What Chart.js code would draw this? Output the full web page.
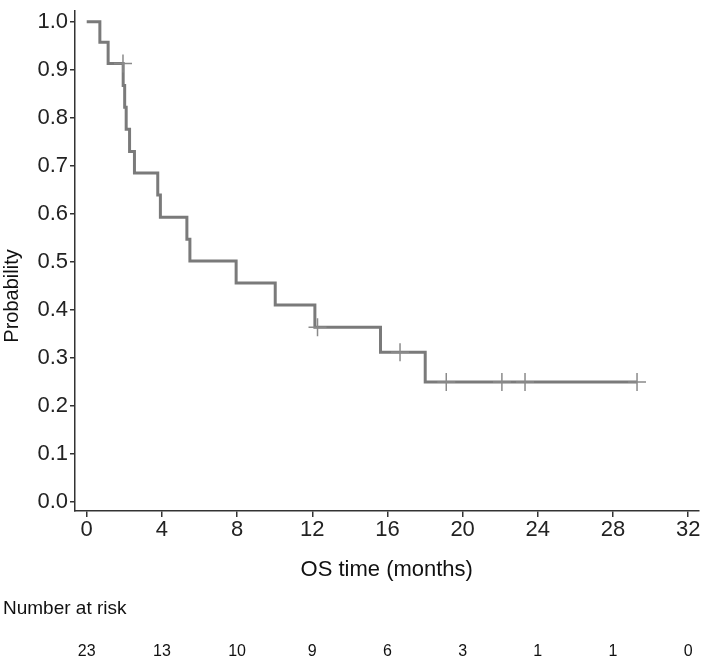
<!DOCTYPE html>
<html>
<head>
<meta charset="utf-8">
<script src="https://cdn.jsdelivr.net/npm/chart.js@4.4.1/dist/chart.umd.min.js"></script>
<style>
  html, body { margin: 0; padding: 0; background: #fff; }
  #wrap { width: 709px; height: 664px; }
</style>
</head>
<body>
<div id="wrap"><canvas id="km"></canvas></div>
<script>
/* Kaplan-Meier steps (months, survival) */
const stepTimes = [0, 0.70, 1.14, 1.94, 2.02, 2.10, 2.28, 2.54, 3.78, 3.92, 5.33, 5.49, 7.95, 10.03, 12.14, 15.63, 18.01, 29.28];
const stepSurv  = [1.0, 0.957, 0.913, 0.867, 0.822, 0.776, 0.730, 0.685, 0.639, 0.593, 0.547, 0.502, 0.456, 0.410, 0.364, 0.312, 0.250, 0.250];

/* censored observations (+ marks) */
const censorTimes = [1.93, 12.28, 16.67, 19.13, 22.09, 23.32, 29.28];
const censorSurv  = [0.913, 0.364, 0.312, 0.250, 0.250, 0.250, 0.250];

/* axes + risk table */
const xTicks     = [0, 4, 8, 12, 16, 20, 24, 28, 32];
const yTicks     = [0, 0.1, 0.2, 0.3, 0.4, 0.5, 0.6, 0.7, 0.8, 0.9, 1.0];
const riskCounts = [23, 13, 10, 9, 6, 3, 1, 1, 0];

const FONT = '"Liberation Sans", Arial, sans-serif';
const AXIS_COLOR = '#333';
const CURVE_COLOR = '#7a7a7a';

// titre Y + tableau "Number at risk" dessinés à la main
const extrasPlugin = {
  id: 'extras',
  afterDraw(chart) {
    const ctx = chart.ctx;
    const xs = chart.scales.x;
    ctx.save();
    ctx.fillStyle = '#111';

    // Probability
    ctx.save();
    ctx.translate(12, 296);
    ctx.rotate(-Math.PI / 2);
    ctx.font = '20px ' + FONT;
    ctx.textAlign = 'center';
    ctx.textBaseline = 'middle';
    ctx.fillText('Probability', 0, 0);
    ctx.restore();

    // Number at risk
    ctx.font = '19px ' + FONT;
    ctx.textAlign = 'left';
    ctx.textBaseline = 'middle';
    ctx.fillText('Number at risk', 3, 609);

    ctx.font = '16px ' + FONT;
    ctx.textAlign = 'center';
    riskCounts.forEach((n, i) => {
      ctx.fillText(String(n), xs.getPixelForValue(xTicks[i]), 652);
    });
    ctx.restore();
  }
};

// pas de marge auto pour les labels qui débordent
const noOverflow = s => { s.paddingTop = 0; s.paddingBottom = 0; s.paddingLeft = 0; s.paddingRight = 0; };

new Chart(document.getElementById('km'), {
  type: 'line',
  data: {
    datasets: [
      {
        label: 'OS',
        data: stepTimes.map((t, i) => ({ x: t, y: stepSurv[i] })),
        stepped: 'before',   // horizontal puis chute au temps de l'événement
        borderColor: CURVE_COLOR,
        borderWidth: 3,
        pointRadius: 0,
        fill: false,
        order: 2,
      },
      {
        label: 'censored',
        type: 'scatter',
        data: censorTimes.map((t, i) => ({ x: t, y: censorSurv[i] })),
        pointStyle: 'cross',
        pointRadius: 9,
        borderColor: '#8a8a8a',
        borderWidth: 1.5,
        order: 1,
      },
    ],
  },
  options: {
    responsive: true,
    maintainAspectRatio: false,
    animation: false,
    layout: { padding: { top: 0, right: 1, bottom: 0, left: 0 } },
    plugins: {
      legend: { display: false },
      tooltip: { enabled: false },
    },
    scales: {
      x: {
        type: 'linear',
        min: -0.623,
        max: 32.55,
        afterBuildTicks: s => { s.ticks = xTicks.map(v => ({ value: v })); },
        afterFit: s => { s.height = 153; noOverflow(s); },
        ticks: { color: '#222', font: { family: FONT, size: 22 }, padding: 0, maxRotation: 0 },
        grid: { drawOnChartArea: false, drawTicks: true, tickLength: 6, color: AXIS_COLOR, lineWidth: 1.5 },
        border: { display: true, color: AXIS_COLOR, width: 1.5 },
        title: {
          display: true,
          text: 'OS time (months)',
          color: '#111',
          font: { family: FONT, size: 22 },
          padding: { top: 0, bottom: 81 },
        },
      },
      y: {
        min: -0.0187,
        max: 1.0233,
        afterBuildTicks: s => { s.ticks = yTicks.map(v => ({ value: v })); },
        afterFit: s => { s.width = 75; noOverflow(s); },
        ticks: { color: '#222', font: { family: FONT, size: 22 }, padding: 2, callback: v => v.toFixed(1) },
        grid: { drawOnChartArea: false, drawTicks: true, tickLength: 5, color: AXIS_COLOR, lineWidth: 1.5 },
        border: { display: true, color: AXIS_COLOR, width: 1.5 },
      },
    },
  },
  plugins: [extrasPlugin],
});
</script>
</body>
</html>
